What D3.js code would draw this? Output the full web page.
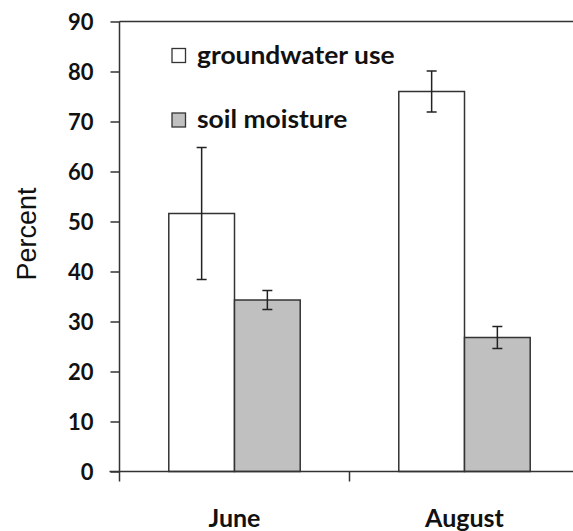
<!DOCTYPE html>
<html>
<head>
<meta charset="utf-8">
<script src="https://cdn.jsdelivr.net/npm/d3@7"></script>
<style>
  body { margin: 0; background: #fff; }
  svg { display: block; }
  .bold { font-family: Lato, "Open Sans", sans-serif; font-weight: bold; fill: #111; }
</style>
</head>
<body>
<svg width="573" height="531"></svg>
<script>
// Data
let months = ['June', 'August'];
let series = ['groundwater use', 'soil moisture'];
let groundwater = [51.6, 76.0];
let groundwaterErr = [13.2, 4.1];
let soil = [34.3, 26.8];
let soilErr = [1.9, 2.2];
let yTicks = [0, 10, 20, 30, 40, 50, 60, 70, 80, 90];
let fills = ['#ffffff', '#c0c0c0'];

let svg = d3.select('svg');
let width = +svg.attr('width');

let plotLeft = 119.5, plotTop = 21.5, plotBottom = 471.5;
let bandW = 230;

let y = d3.scaleLinear().domain([0, 90]).range([plotBottom, plotTop]);

let x0 = d3.scaleBand()
  .domain(months)
  .range([plotLeft, plotLeft + bandW * months.length]);

let x1 = d3.scaleBand()
  .domain(series)
  .range([0, x0.bandwidth()])
  .paddingOuter(0.75);

let rows = months.map((m, i) => ({
  month: m,
  values: [
    { key: series[0], v: groundwater[i], e: groundwaterErr[i], fill: fills[0] },
    { key: series[1], v: soil[i], e: soilErr[i], fill: fills[1] }
  ]
}));

// frame top line
svg.append('line')
  .attr('x1', plotLeft).attr('x2', width)
  .attr('y1', plotTop).attr('y2', plotTop)
  .attr('stroke', '#333').attr('stroke-width', 1.5);

// y axis
let yAxis = svg.append('g')
  .attr('transform', `translate(${plotLeft},0)`)
  .call(d3.axisLeft(y).tickValues(yTicks).tickSize(9).tickPadding(17));
yAxis.select('.domain').attr('stroke', '#333').attr('stroke-width', 1.5)
  .attr('d', `M0,${plotTop}V${plotBottom + 10}`);
yAxis.selectAll('.tick line').attr('stroke', '#333').attr('stroke-width', 1.5);
yAxis.selectAll('.tick text')
  .attr('class', 'bold')
  .style('font-size', '22px')
  .attr('dy', '0.36em');

// bars
let groups = svg.selectAll('.grp')
  .data(rows)
  .enter().append('g')
  .attr('class', 'grp')
  .attr('transform', d => `translate(${x0(d.month)},0)`);

groups.selectAll('rect')
  .data(d => d.values)
  .enter().append('rect')
  .attr('x', d => x1(d.key))
  .attr('width', x1.bandwidth())
  .attr('y', d => y(d.v))
  .attr('height', d => y(0) - y(d.v))
  .attr('fill', d => d.fill)
  .attr('stroke', '#333')
  .attr('stroke-width', 1.5);

// error bars
let err = groups.selectAll('.err')
  .data(d => d.values)
  .enter().append('g')
  .attr('class', 'err')
  .attr('transform', d => `translate(${x1(d.key) + x1.bandwidth() / 2},0)`)
  .attr('stroke', '#222').attr('stroke-width', 1.5);
err.append('line')
  .attr('y1', d => y(d.v + d.e)).attr('y2', d => y(d.v - d.e));
err.append('line')
  .attr('x1', -5).attr('x2', 5)
  .attr('y1', d => y(d.v + d.e)).attr('y2', d => y(d.v + d.e));
err.append('line')
  .attr('x1', -5).attr('x2', 5)
  .attr('y1', d => y(d.v - d.e)).attr('y2', d => y(d.v - d.e));

// x axis line and boundary ticks
svg.append('line')
  .attr('x1', plotLeft - 10).attr('x2', width)
  .attr('y1', plotBottom).attr('y2', plotBottom)
  .attr('stroke', '#333').attr('stroke-width', 1.5);
svg.selectAll('.xtick')
  .data(months)
  .enter().append('line')
  .attr('class', 'xtick')
  .attr('x1', d => x0(d) + x0.bandwidth()).attr('x2', d => x0(d) + x0.bandwidth())
  .attr('y1', plotBottom).attr('y2', plotBottom + 10)
  .attr('stroke', '#333').attr('stroke-width', 1.5);

// month labels
svg.selectAll('.mlabel')
  .data(months)
  .enter().append('text')
  .attr('class', 'bold')
  .attr('x', d => x0(d) + x0.bandwidth() / 2)
  .attr('y', 527)
  .attr('text-anchor', 'middle')
  .style('font-size', '25px')
  .text(d => d);

// y title
svg.append('text')
  .attr('transform', 'translate(36,234) rotate(-90)')
  .attr('text-anchor', 'middle')
  .style('font-family', '"Liberation Sans", Arial, sans-serif')
  .style('font-size', '27px')
  .attr('fill', '#111')
  .text('Percent');

// legend
let legend = svg.selectAll('.leg')
  .data(series)
  .enter().append('g')
  .attr('class', 'leg')
  .attr('transform', (d, i) => `translate(172,${55.5 + i * 64.5})`);
legend.append('rect')
  .attr('x', 0).attr('y', -7)
  .attr('width', 13.5).attr('height', 14)
  .attr('fill', (d, i) => fills[i])
  .attr('stroke', '#333').attr('stroke-width', 1.3);
legend.append('text')
  .attr('class', 'bold')
  .attr('transform', 'translate(25,8) scale(1.1,1)')
  .style('font-size', '24px')
  .text(d => d);
</script>
</body>
</html>
